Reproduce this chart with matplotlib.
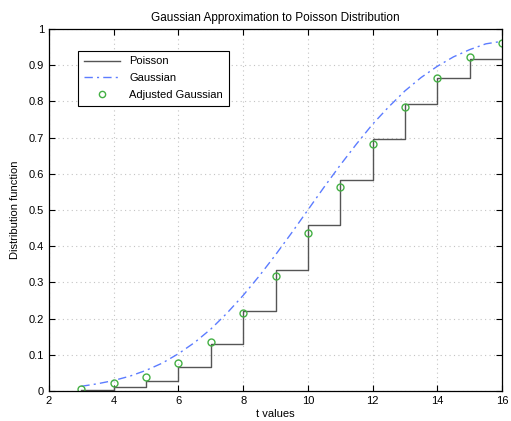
import numpy as np
import matplotlib.pyplot as plt

# Poisson distribution function (stairs), levels held from each x to the next
k_vals = [3, 4, 5, 6, 7, 8, 9, 10, 11, 12, 13, 14, 15, 16]
poisson_cdf = [0.003, 0.010, 0.029, 0.067, 0.130, 0.220, 0.333, 0.458,
               0.583, 0.697, 0.792, 0.865, 0.917, 0.917]

# Gaussian distribution function, sampled every half unit
t_gauss = [3.0, 3.5, 4.0, 4.5, 5.0, 5.5, 6.0, 6.5, 7.0, 7.5, 8.0, 8.5, 9.0,
           9.5, 10.0, 10.5, 11.0, 11.5, 12.0, 12.5, 13.0, 13.5, 14.0, 14.5,
           15.0, 15.5, 16.0]
gauss_cdf = [0.013, 0.020, 0.029, 0.041, 0.057, 0.077, 0.103, 0.134, 0.171,
             0.215, 0.264, 0.318, 0.376, 0.437, 0.500, 0.563, 0.624, 0.682,
             0.737, 0.785, 0.829, 0.866, 0.897, 0.923, 0.943, 0.959, 0.966]

# Gaussian with continuity correction, at the integer points
adj_gauss = [0.006, 0.021, 0.040, 0.078, 0.134, 0.215, 0.318, 0.437,
             0.563, 0.682, 0.785, 0.866, 0.923, 0.960]

plt.rcParams['font.family'] = ['Liberation Sans', 'DejaVu Sans']
plt.rcParams['font.size'] = 8

fig = plt.figure(figsize=(5.11, 4.21), dpi=100)
ax = fig.add_axes([49 / 511, 30 / 421, 453 / 511, 362 / 421])

ax.step(k_vals, poisson_cdf, where='post', color='#555555', linewidth=1.0,
        label='Poisson')
ax.plot(t_gauss, gauss_cdf, color='#5c7cff', linestyle=(0, (6, 3, 1.5, 3)),
        linewidth=1.0, label='Gaussian')
ax.plot(k_vals, adj_gauss, linestyle='none', marker='o', markersize=5,
        markerfacecolor='none', markeredgecolor='#44b044', markeredgewidth=1.0,
        label='Adjusted Gaussian')

ax.set_xlim(2, 16)
ax.set_ylim(0, 1)
ax.set_xticks(range(2, 17, 2))
ax.set_yticks(np.arange(0, 1.01, 0.1))
ax.set_yticklabels(['0', '0.1', '0.2', '0.3', '0.4', '0.5', '0.6', '0.7',
                    '0.8', '0.9', '1'])
ax.tick_params(direction='in', top=True, right=True, length=4, width=0.8,
               labelsize=8)
ax.grid(True, linestyle=(0, (1, 3)), color='#c4c4c4', linewidth=0.8)
for s in ax.spines.values():
    s.set_linewidth(0.9)

ax.set_title('Gaussian Approximation to Poisson Distribution', fontsize=8.5, pad=6)
ax.set_xlabel('t values', fontsize=8, labelpad=2)
ax.set_ylabel('Distribution function', fontsize=8, labelpad=6)

leg = ax.legend(loc='upper left', bbox_to_anchor=(0.052, 0.955), fancybox=False,
                edgecolor='black', framealpha=1, fontsize=8, handlelength=3.3,
                borderpad=0.5, labelspacing=0.62, handletextpad=0.8,
                markerscale=0.9)
leg.get_frame().set_linewidth(0.8)

fig.savefig('out.png', dpi=100)
